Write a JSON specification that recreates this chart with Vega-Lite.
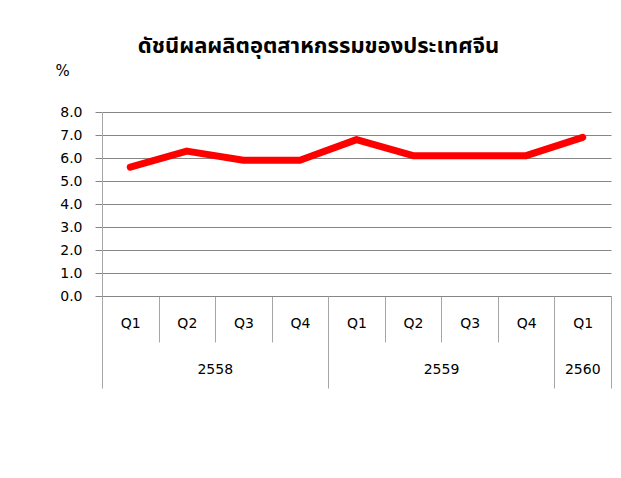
{
  "$schema": "https://vega.github.io/schema/vega-lite/v6.json",
  "autosize": {"type": "none"},
  "padding": {"left": 102, "top": 112, "right": 10, "bottom": 182},
  "width": 509,
  "height": 184,
  "background": "white",
  "title": {
    "text": "ดัชนีผลผลิตอุตสาหกรรมของประเทศจีน",
    "font": "Noto Sans Thai, Tahoma, Noto Sans, DejaVu Sans, sans-serif",
    "fontSize": 22,
    "fontWeight": "bold",
    "color": "#000000",
    "anchor": "middle",
    "frame": "group",
    "dx": -38,
    "baseline": "alphabetic",
    "offset": -12
  },
  "data": {
    "values": [
      {"period": "2558 Q1", "value": 5.6},
      {"period": "2558 Q2", "value": 6.3},
      {"period": "2558 Q3", "value": 5.9},
      {"period": "2558 Q4", "value": 5.9},
      {"period": "2559 Q1", "value": 6.8},
      {"period": "2559 Q2", "value": 6.1},
      {"period": "2559 Q3", "value": 6.1},
      {"period": "2559 Q4", "value": 6.1},
      {"period": "2560 Q1", "value": 6.9}
    ]
  },
  "config": {
    "view": {"stroke": null},
    "axis": {
      "labelFont": "DejaVu Sans",
      "labelFontSize": 14,
      "labelColor": "#000000",
      "titleFont": "DejaVu Sans"
    }
  },
  "resolve": {"axis": {"x": "independent"}},
  "encoding": {
    "y": {
      "field": "value",
      "type": "quantitative",
      "scale": {"domain": [0, 8]},
      "axis": {
        "values": [0, 1, 2, 3, 4, 5, 6, 7, 8],
        "format": ".1f",
        "labelOverlap": false,
        "title": "%",
        "titleAngle": 0,
        "titleX": -40,
        "titleY": -42,
        "titleAlign": "center",
        "titleBaseline": "middle",
        "titleFontSize": 15,
        "titleFontWeight": "normal",
        "titleColor": "#000000",
        "labelPadding": 13,
        "tickSize": 7,
        "tickColor": "#868686",
        "domainColor": "#a6a6a6",
        "gridColor": "#868686",
        "gridWidth": 1,
        "gridOpacity": 1
      }
    }
  },
  "layer": [
    {
      "mark": {"type": "line", "color": "#ff0000", "strokeWidth": 7, "strokeCap": "round", "strokeJoin": "round"},
      "encoding": {
        "x": {
          "field": "period",
          "type": "nominal",
          "sort": null,
          "scale": {"paddingInner": 0, "paddingOuter": 0},
          "axis": {
            "orient": "bottom",
            "title": null,
            "labelExpr": "isValid(datum.value) ? substring(datum.value + '', 5) : ''",
            "labelAngle": 0,
            "labelBaseline": "middle",
            "labelPadding": -19,
            "tickBand": "extent",
            "tickColor": "#a6a6a6",
            "tickWidth": 1,
            "tickSize": 46,
            "domainColor": "#868686",
            "domainWidth": 1,
            "grid": false
          }
        }
      }
    },
    {
      "mark": {"type": "line", "opacity": 0},
      "encoding": {
        "x": {
          "field": "period",
          "type": "nominal",
          "sort": null,
          "axis": {
            "orient": "bottom",
            "title": null,
            "values": ["2558 Q1", "2559 Q1", "2560 Q1"],
            "bandPosition": 0,
            "labelExpr": "isValid(datum.value) && datum.value != '2560 Q1' ? substring(datum.value + '', 0, 4) : ''",
            "labelAngle": 0,
            "labelBaseline": "middle",
            "labelPadding": -19,
            "labelOffset": 85,
            "labelOverlap": false,
            "tickSize": 92,
            "tickColor": "#a6a6a6",
            "tickWidth": 1,
            "domain": false,
            "grid": false
          }
        }
      }
    },
    {
      "mark": {"type": "line", "opacity": 0},
      "encoding": {
        "x": {
          "field": "period",
          "type": "nominal",
          "sort": null,
          "axis": {
            "orient": "bottom",
            "title": null,
            "values": ["2560 Q1"],
            "bandPosition": 1,
            "labelExpr": "isValid(datum.value) ? substring(datum.value + '', 0, 4) : ''",
            "labelAngle": 0,
            "labelBaseline": "middle",
            "labelPadding": -19,
            "labelOffset": 0,
            "labelOverlap": false,
            "tickSize": 92,
            "tickColor": "#a6a6a6",
            "tickWidth": 1,
            "domain": false,
            "grid": false
          }
        }
      }
    }
  ]
}
